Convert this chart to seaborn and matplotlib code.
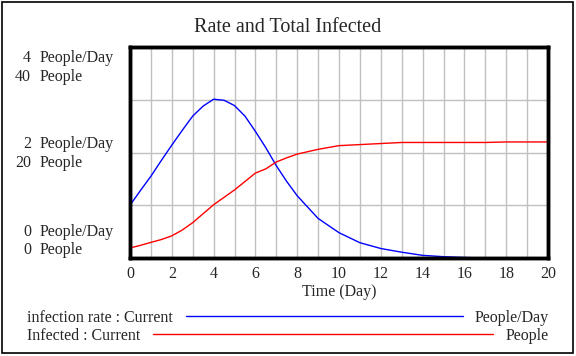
import pandas as pd
import numpy as np
import matplotlib.pyplot as plt
import seaborn as sns
from matplotlib.lines import Line2D
from matplotlib.patches import Rectangle

# values
time = [0, 0.5, 1, 1.5, 2, 2.5, 3, 3.5, 4, 4.5, 5, 5.5, 6, 6.5, 7, 7.5, 8,
        9, 10, 11, 12, 13, 14, 15, 16, 17, 18, 19, 20]
infection_rate = [1.0, 1.28, 1.55, 1.85, 2.14, 2.42, 2.69, 2.88, 3.01, 2.99,
                  2.89, 2.69, 2.40, 2.09, 1.75, 1.45, 1.18, 0.75, 0.48, 0.29,
                  0.18, 0.11, 0.05, 0.025, 0.01, 0.0, 0.0, 0.0, 0.0]
infected = [1.9, 2.4, 2.96, 3.5, 4.2, 5.3, 6.7, 8.4, 10.1, 11.5, 12.9, 14.5,
            16.1, 16.9, 18.2, 19.0, 19.7, 20.6, 21.3, 21.5, 21.7, 21.9, 21.9,
            21.9, 21.9, 21.9, 22.0, 22.0, 22.0]
x_ticks = list(range(0, 21, 2))

df = pd.DataFrame({'time': time, 'rate': infection_rate, 'infected': infected})

sns.set_theme(style='white')
plt.rcParams['font.family'] = ['Liberation Serif', 'DejaVu Serif']
fs = 11.5
W, H = 576, 356


def fy(px):
    # pixel row from the top -> figure fraction
    return 1 - px / H


fig = plt.figure(figsize=(5.76, 3.56), dpi=100)
ax = fig.add_axes([130 / W, fy(258), 418 / W, 211 / H])

# grid
for t in range(1, 20):
    ax.axvline(t, color='#c0c0c0', lw=1, zorder=0)
for v in [1, 2, 3]:
    ax.axhline(v, color='#c0c0c0', lw=1, zorder=0)

sns.lineplot(data=df, x='time', y='rate', ax=ax, color='#0000ff', lw=1)
ax.set_xlim(0, 20)
ax.set_ylim(0, 4)

ax2 = ax.twinx()
sns.lineplot(data=df, x='time', y='infected', ax=ax2, color='#ff0000', lw=1)
ax2.set_ylim(0, 40)
ax2.set_yticks([])
ax2.set_ylabel('')

for a in (ax, ax2):
    for s in a.spines.values():
        s.set_color('black')
        s.set_linewidth(2.5)

ax.set_yticks([])
ax.set_ylabel('')
ax.set_xlabel('')
ax.set_xticks(x_ticks)
ax.set_xticklabels([str(t) for t in x_ticks], fontsize=fs, va='baseline')
ax.tick_params(axis='x', length=0, pad=20 * 0.72)

fig.text(339 / W, fy(295.5), 'Time (Day)', ha='center', va='baseline',
         fontsize=fs)
fig.text(288 / W, fy(32), 'Rate and Total Infected', ha='center',
         va='baseline', fontsize=14.5)

# y axis labels, Vensim style
ylabels = [('4', 'People/Day', 62), ('40', 'People', 81),
           ('2', 'People/Day', 148), ('20', 'People', 167),
           ('0', 'People/Day', 236.5), ('0', 'People', 254.5)]
for num, unit, ypx in ylabels:
    fig.text(31 / W, fy(ypx), num, ha='right', va='baseline', fontsize=fs)
    fig.text(40 / W, fy(ypx), unit, ha='left', va='baseline', fontsize=fs)

# legend rows
legend_rows = [('infection rate : Current', 'People/Day', '#0000ff', 186, 463, 321.5),
               ('Infected : Current', 'People', '#ff0000', 153, 493, 339.5)]
for name, unit, col, x0, x1, ypx in legend_rows:
    fig.text(27 / W, fy(ypx), name, ha='left', va='baseline', fontsize=fs)
    fig.add_artist(Line2D([x0 / W, x1 / W], [fy(ypx - 5.5)] * 2, color=col,
                          lw=1, transform=fig.transFigure))
    fig.text(549 / W, fy(ypx), unit, ha='right', va='baseline', fontsize=fs)

fig.add_artist(Rectangle((1.5 / W, fy(353)), 571.5 / W, 351.5 / H,
                         transform=fig.transFigure, fill=False,
                         edgecolor='black', lw=1.2))

fig.savefig('out.png', dpi=100, facecolor='white')
